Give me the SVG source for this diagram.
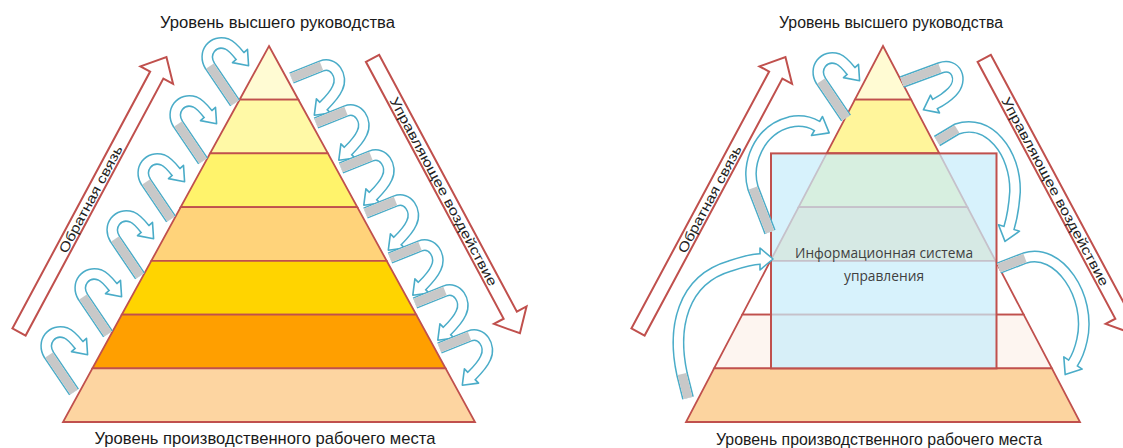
<svg xmlns="http://www.w3.org/2000/svg" width="1123" height="448" viewBox="0 0 1123 448">
<style>
.band{stroke:#C0504D;stroke-width:1.8}
.big{fill:#fff;stroke:#C0504D;stroke-width:2;stroke-linejoin:miter}
.ro{fill:none;stroke:#4AACC8;stroke-width:12;stroke-linejoin:round}
.ri{fill:none;stroke:#fff;stroke-width:9;stroke-linejoin:round}
.rg{fill:none;stroke:#C8C8C8;stroke-width:9}
.hd{fill:#fff;stroke:#4AACC8;stroke-width:1.6;stroke-linejoin:round}
.lbl{font-family:"Liberation Sans",Arial,sans-serif;fill:#1a1a1a;text-anchor:middle}
.arrtxt{font-family:"Liberation Sans",Arial,sans-serif;font-size:13.5px;fill:#222;text-anchor:middle}
.box{font-family:"Open Sans","Liberation Sans",sans-serif;font-size:14.5px;fill:#404040;text-anchor:middle}
</style>
<defs>
<g id="aL">
<path class="ro" d="M0,0 L-25,-37 C-33,-50 -22,-64 -8,-59 C-3,-57 1,-52 5,-47 L7,-44.8"/>
<polygon class="hd" points="-2.5,-40.4 13.6,-37.3 12.5,-53.6"/>
<path class="ri" d="M0,0 L-25,-37 C-33,-50 -22,-64 -8,-59 C-3,-57 1,-52 5,-47 L7,-44.8"/>
<path class="rg" d="M0,0 L-25,-37"/>
</g>
<g id="aR">
<path class="ro" d="M0,0 L30,-12 C42,-17 52,-2 46,10 C43,17 37,23 32,28 L29.9,30.1"/>
<polygon class="hd" points="24.9,20.9 22.8,37.2 39.1,35.1"/>
<path class="ri" d="M0,0 L30,-12 C42,-17 52,-2 46,10 C43,17 37,23 32,28 L29.9,30.1"/>
<path class="rg" d="M0,0 L30,-12"/>
</g>
<polygon id="bigArrow" class="big" points="0,-7.5 291.5,-7.5 291.5,-18.5 312,0 291.5,18.5 291.5,7.5 0,7.5"/>
</defs>
<rect width="1123" height="448" fill="#fff"/>

<g id="left-pyramid">
<polygon class="band" fill="#FFFBD3" points="269,46 298.4,99.7 239.6,99.7"/>
<polygon class="band" fill="#FFF9A6" points="239.6,99.7 298.4,99.7 327.9,153.4 210.1,153.4"/>
<polygon class="band" fill="#FFF36B" points="210.1,153.4 327.9,153.4 357.3,207.1 180.7,207.1"/>
<polygon class="band" fill="#FFD37A" points="180.7,207.1 357.3,207.1 386.7,260.9 151.3,260.9"/>
<polygon class="band" fill="#FFD400" points="151.3,260.9 386.7,260.9 416.2,314.6 121.8,314.6"/>
<polygon class="band" fill="#FF9F00" points="121.8,314.6 416.2,314.6 445.6,368.3 92.4,368.3"/>
<polygon class="band" fill="#FDD5A1" points="92.4,368.3 445.6,368.3 475,422 63,422"/>
</g>

<g id="right-pyramid">
<polygon class="band" fill="#FFFBD3" points="883,46 911.1,99.7 854.9,99.7"/>
<polygon class="band" fill="#FFF59B" points="854.9,99.7 911.1,99.7 939.3,153.4 826.7,153.4"/>
<polygon class="band" fill="#FFF59B" points="826.7,153.4 939.3,153.4 967.4,207.1 798.6,207.1"/>
<polygon class="band" fill="#FCDDA8" points="798.6,207.1 967.4,207.1 995.6,260.9 770.4,260.9"/>
<polygon class="band" fill="#FFFFFF" points="770.4,260.9 995.6,260.9 1023.7,314.6 742.3,314.6"/>
<polygon class="band" fill="#FDF5F0" points="742.3,314.6 1023.7,314.6 1051.9,368.3 714.1,368.3"/>
<polygon class="band" fill="#FCD49F" points="714.1,368.3 1051.9,368.3 1080,422 686,422"/>
</g>

<g id="info-box">
<rect x="771" y="153.4" width="225.5" height="215" fill="#C8EDFB" fill-opacity="0.72" stroke="#C0504D" stroke-width="2"/>
<text class="box" x="884" y="258" textLength="178" lengthAdjust="spacingAndGlyphs">Информационная система</text>
<text class="box" x="884" y="281" textLength="80" lengthAdjust="spacingAndGlyphs">управления</text>
</g>

<g id="feedback-left">
<use href="#bigArrow" transform="translate(19,332) rotate(-61.8)"/>
<text class="arrtxt" transform="translate(19,332) rotate(-61.8)" x="151" y="5" textLength="120" lengthAdjust="spacingAndGlyphs">Обратная связь</text>
</g>
<g id="control-left">
<use href="#bigArrow" transform="translate(372.5,58.3) rotate(61.8)"/>
<text class="arrtxt" transform="translate(372.5,58.3) rotate(61.8)" x="151" y="5" textLength="212" lengthAdjust="spacingAndGlyphs">Управляющее воздействие</text>
</g>
<g id="feedback-right">
<use href="#bigArrow" transform="translate(638,332) rotate(-61.8)"/>
<text class="arrtxt" transform="translate(638,332) rotate(-61.8)" x="151" y="5" textLength="120" lengthAdjust="spacingAndGlyphs">Обратная связь</text>
</g>
<g id="control-right">
<use href="#bigArrow" transform="translate(984.2,58.3) rotate(61.8)"/>
<text class="arrtxt" transform="translate(984.2,58.3) rotate(61.8)" x="151" y="5" textLength="212" lengthAdjust="spacingAndGlyphs">Управляющее воздействие</text>
</g>

<g id="connectors">
<use href="#aL" transform="translate(235,103)"/>
<use href="#aL" transform="translate(203,161)"/>
<use href="#aL" transform="translate(171,219)"/>
<use href="#aL" transform="translate(140,276)"/>
<use href="#aL" transform="translate(108,334)"/>
<use href="#aL" transform="translate(74,392)"/>
<use href="#aR" transform="translate(291.5,78)"/>
<use href="#aR" transform="translate(316,123)"/>
<use href="#aR" transform="translate(341,168)"/>
<use href="#aR" transform="translate(365.5,213)"/>
<use href="#aR" transform="translate(390,258)"/>
<use href="#aR" transform="translate(415,303)"/>
<use href="#aR" transform="translate(439.5,348)"/>

<use href="#aL" transform="translate(846,118)"/>
<g>
<path class="ro" d="M770,232 L753,188 C746,165 758,130 790,122 C800,120 810,122 817,126 L819.6,127.5"/>
<polygon class="hd" points="811.5,135.5 829.2,132.9 822.5,116.5"/>
<path class="ri" d="M770,232 L753,188 C746,165 758,130 790,122 C800,120 810,122 817,126 L819.6,127.5"/>
<path class="rg" d="M770,232 L753,188"/>
</g>
<g>
<path class="ro" d="M688,398 L682,374 C672,328 682,280 730,266 C745,261 754,259 760,259 L763,259"/>
<polygon class="hd" points="760,248 773,259 760,270"/>
<path class="ri" d="M688,398 L682,374 C672,328 682,280 730,266 C745,261 754,259 760,259 L763,259"/>
<path class="rg" d="M688,398 L682,374"/>
</g>
<g>
<path class="ro" d="M902,82 L940,68 C956,62 964,80 952,92 C947,97 941,101 935,104 L932.3,105.3"/>
<polygon class="hd" points="930.5,95.1 923.4,109.8 939.5,112.9"/>
<path class="ri" d="M902,82 L940,68 C956,62 964,80 952,92 C947,97 941,101 935,104 L932.3,105.3"/>
<path class="rg" d="M902,82 L940,68"/>
</g>
<g>
<path class="ro" d="M937,141 L957,129 C988,118 1016,152 1015,192 C1014,207 1012,218 1009,228 L1008.1,230.9"/>
<polygon class="hd" points="998.5,224.8 1005,241.4 1019.5,231.2"/>
<path class="ri" d="M937,141 L957,129 C988,118 1016,152 1015,192 C1014,207 1012,218 1009,228 L1008.1,230.9"/>
<path class="rg" d="M937,141 L957,129"/>
</g>
<g>
<path class="ro" d="M999,268 L1025,258 C1058,247 1092,296 1082,340 C1080,349 1077,357 1073,363 L1071.3,365.5"/>
<polygon class="hd" points="1063.8,356.9 1065.2,374.6 1082.2,369.1"/>
<path class="ri" d="M999,268 L1025,258 C1058,247 1092,296 1082,340 C1080,349 1077,357 1073,363 L1071.3,365.5"/>
<path class="rg" d="M999,268 L1025,258"/>
</g>
</g>

<g id="labels">
<text class="lbl" x="277.5" y="28" font-size="16" textLength="235" lengthAdjust="spacingAndGlyphs">Уровень высшего руководства</text>
<text class="lbl" x="891" y="28" font-size="16" textLength="224" lengthAdjust="spacingAndGlyphs">Уровень высшего руководства</text>
<text class="lbl" x="265" y="444" font-size="17" textLength="341" lengthAdjust="spacingAndGlyphs">Уровень производственного рабочего места</text>
<text class="lbl" x="879" y="445" font-size="17" textLength="326" lengthAdjust="spacingAndGlyphs">Уровень производственного рабочего места</text>
</g>
</svg>
